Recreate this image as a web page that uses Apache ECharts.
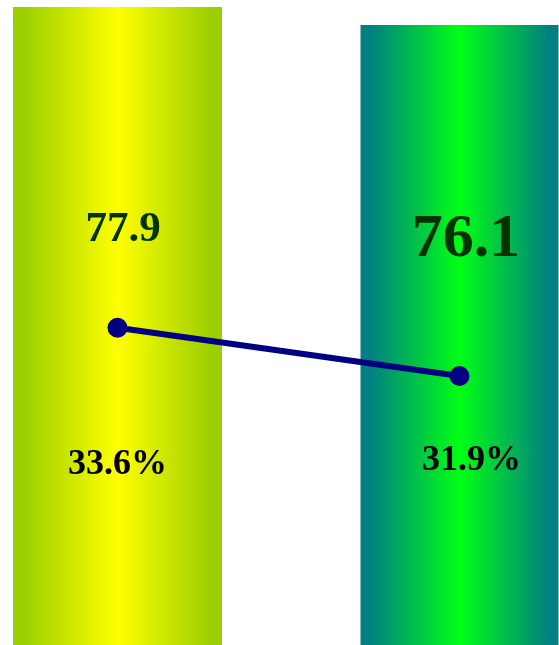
<!DOCTYPE html>
<html>
<head>
<meta charset="utf-8">
<script src="https://cdn.jsdelivr.net/npm/echarts@6/dist/echarts.min.js"></script>
<style>
  html, body { margin: 0; padding: 0; background: #ffffff; }
  #chart { width: 559px; height: 645px; }
</style>
</head>
<body>
<div id="chart"></div>
<script>
// Two categories: a score drawn as a bar and a share drawn as a line
const categories = ['A', 'B'];
const scoreValues = [77.9, 76.1];
const shareValues = [33.6, 31.9];

// Presentation settings (kept apart from the data)
const barWidths = [209, 198];
const barGradients = [
  ['#9ccf00', '#ffff00', '#9ccf00'],
  ['#008080', '#00ff14', '#008080']
];
const scoreFontSizes = [43, 62];
const scoreLabelPos = [[110, 222.5], [105.5, 215]];
const shareLabelOffsets = [[0, 126.5], [12, 75]];
const serif = '"Liberation Serif", "Times New Roman", Times, serif';

function gradient(stops) {
  return new echarts.graphic.LinearGradient(0, 0, 1, 0, [
    { offset: 0, color: stops[0] },
    { offset: 0.05, color: stops[0] },
    { offset: 0.5, color: stops[1] },
    { offset: 0.95, color: stops[2] },
    { offset: 1, color: stops[2] }
  ]);
}

// One bar series per category, each on its own hidden x axis so it stays centred
const barSeries = scoreValues.map((v, i) => ({
  type: 'bar',
  xAxisIndex: i,
  yAxisIndex: 0,
  barWidth: barWidths[i],
  clip: false,
  data: scoreValues.map((val, j) => (j === i ? val : '-')),
  itemStyle: { color: gradient(barGradients[i]) },
  label: {
    show: true,
    position: scoreLabelPos[i],
    align: 'center',
    verticalAlign: 'middle',
    formatter: (p) => String(p.value),
    color: '#003300',
    fontFamily: serif,
    fontWeight: 'bold',
    fontSize: scoreFontSizes[i]
  },
  z: 2
}));

const lineSeries = {
  type: 'line',
  xAxisIndex: 2,
  yAxisIndex: 1,
  clip: false,
  data: shareValues.map((v, i) => ({
    value: v,
    label: { offset: shareLabelOffsets[i] }
  })),
  symbol: 'circle',
  symbolSize: 20,
  lineStyle: { color: '#000080', width: 6 },
  itemStyle: { color: '#000080' },
  label: {
    show: true,
    position: 'bottom',
    distance: 0,
    align: 'center',
    verticalAlign: 'middle',
    formatter: (p) => p.value.toFixed(1) + '%',
    color: '#000000',
    fontFamily: serif,
    fontWeight: 'bold',
    fontSize: 36
  },
  z: 5
};

// Category ticks sit on the grid edges, so each mark is centred on a grid side
const hiddenCategoryAxis = (gridIndex) => ({
  type: 'category',
  gridIndex: gridIndex,
  data: categories,
  boundaryGap: false,
  show: false
});

const chart = echarts.init(document.getElementById('chart'));
chart.setOption({
  animation: false,
  backgroundColor: '#ffffff',
  grid: [
    { left: 117.5, right: 99.5, top: 5, bottom: 0 },
    { left: 117.5, right: 99.5, top: 288, height: 142 }
  ],
  xAxis: [hiddenCategoryAxis(0), hiddenCategoryAxis(0), hiddenCategoryAxis(1)],
  yAxis: [
    { type: 'value', gridIndex: 0, min: 14.1, max: 78.1, show: false },
    { type: 'value', gridIndex: 1, min: 30, max: 35, show: false }
  ],
  series: barSeries.concat([lineSeries])
});
</script>
</body>
</html>
